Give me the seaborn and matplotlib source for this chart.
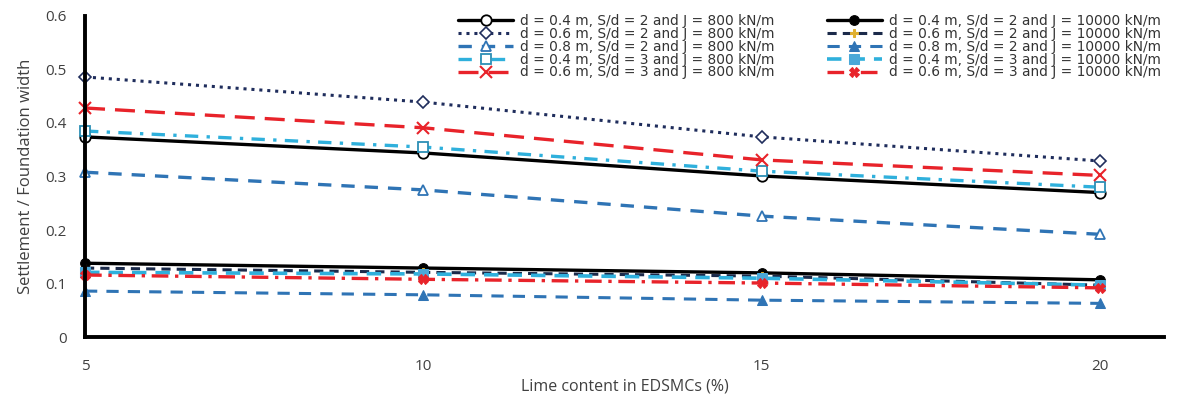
import matplotlib
matplotlib.use("Agg")
import matplotlib.pyplot as plt
import seaborn as sns
import pandas as pd

sns.set_theme(style="white")
plt.rcParams["font.family"] = ["Open Sans", "DejaVu Sans"]

lime = [5, 10, 15, 20]

labels = [
    "d = 0.4 m, S/d = 2 and J = 800 kN/m",
    "d = 0.6 m, S/d = 2 and J = 800 kN/m",
    "d = 0.8 m, S/d = 2 and J = 800 kN/m",
    "d = 0.4 m, S/d = 3 and J = 800 kN/m",
    "d = 0.6 m, S/d = 3 and J = 800 kN/m",
    "d = 0.4 m, S/d = 2 and J = 10000 kN/m",
    "d = 0.6 m, S/d = 2 and J = 10000 kN/m",
    "d = 0.8 m, S/d = 2 and J = 10000 kN/m",
    "d = 0.4 m, S/d = 3 and J = 10000 kN/m",
    "d = 0.6 m, S/d = 3 and J = 10000 kN/m",
]

# Settlement ratios for each configuration
s_04_2_800 = [0.374, 0.344, 0.301, 0.270]
s_06_2_800 = [0.486, 0.439, 0.374, 0.329]
s_08_2_800 = [0.308, 0.275, 0.226, 0.192]
s_04_3_800 = [0.385, 0.355, 0.310, 0.280]
s_06_3_800 = [0.428, 0.391, 0.331, 0.302]
s_04_2_10000 = [0.138, 0.129, 0.120, 0.107]
s_06_2_10000 = [0.129, 0.121, 0.114, 0.097]
s_08_2_10000 = [0.086, 0.079, 0.069, 0.063]
s_04_3_10000 = [0.121, 0.118, 0.110, 0.097]
s_06_3_10000 = [0.116, 0.108, 0.101, 0.092]

series = [s_04_2_800, s_06_2_800, s_08_2_800, s_04_3_800, s_06_3_800,
          s_04_2_10000, s_06_2_10000, s_08_2_10000, s_04_3_10000, s_06_3_10000]

styles = [
    dict(color="black", linestyle="-", lw=2.4, marker="o", ms=7.5, mfc="white", mec="black", mew=1.3),
    dict(color="#1f2d5c", linestyle=(0, (1, 1.6)), lw=2.2, marker="D", ms=6, mfc="white", mec="#1f2d5c", mew=1.2),
    dict(color="#2f74b5", linestyle=(0, (4, 3)), lw=2.4, marker="^", ms=7.5, mfc="white", mec="#2f74b5", mew=1.3),
    dict(color="#2fb0dc", linestyle=(0, (4, 2.5, 1, 2.5)), lw=2.4, marker="s", ms=6.5, mfc="white", mec="#2c8fb5", mew=1.3),
    dict(color="#e8232a", linestyle=(0, (6, 3)), lw=2.4, marker="x", ms=8, mec="#e8232a", mew=1.5),
    dict(color="black", linestyle="-", lw=2.4, marker="o", ms=7, mfc="black", mec="black"),
    dict(color="#1b2a4a", linestyle=(0, (3, 2)), lw=2.2, marker="P", ms=6, mfc="#e0b030", mec="#e0b030"),
    dict(color="#2f74b5", linestyle=(0, (4, 3)), lw=2.2, marker="^", ms=7, mfc="#2f74b5", mec="#2f74b5"),
    dict(color="#2fb0dc", linestyle=(0, (4, 2.5)), lw=2.6, marker="s", ms=6.5, mfc="#4aa8d8", mec="#4aa8d8"),
    dict(color="#e8232a", linestyle=(0, (5, 2, 1, 2)), lw=2.4, marker="X", ms=6.5, mfc="#e8232a", mec="#e8232a"),
]

fig = plt.figure(figsize=(11.81, 3.98), dpi=100)
ax = fig.add_axes([0.072, 0.153, 0.914, 0.807])

for lab, vals, st in zip(labels, series, styles):
    df = pd.DataFrame({"lime": lime, "ratio": vals})
    sns.lineplot(data=df, x="lime", y="ratio", ax=ax, label=lab, clip_on=False, **st)

ax.set_xlim(5, 20.95)
ax.set_ylim(0, 0.6)
ax.set_xticks(lime)
ax.set_yticks([0, 0.1, 0.2, 0.3, 0.4, 0.5, 0.6])
ax.set_yticklabels(["0", "0.1", "0.2", "0.3", "0.4", "0.5", "0.6"])

for side in ["top", "right"]:
    ax.spines[side].set_visible(False)
for side in ["left", "bottom"]:
    ax.spines[side].set_color("black")
    ax.spines[side].set_linewidth(2.8)

ax.tick_params(axis="both", which="major", direction="out", length=5, width=2.5,
               colors="black", labelcolor="#404040", labelsize=11, pad=8)
ax.tick_params(axis="x", direction="inout", length=8, pad=12)

ax.set_xlabel("Lime content in EDSMCs (%)", fontsize=11.5, color="#404040", labelpad=3)
ax.set_ylabel("Settlement / Foundation width", fontsize=12, color="#404040", labelpad=8)

leg = ax.legend(ncol=2, loc="upper right", bbox_to_anchor=(1.008, 1.045), frameon=False,
                prop={"family": "DejaVu Sans", "size": 9.9}, handlelength=4.0,
                columnspacing=3.8, labelspacing=-0.08, handletextpad=0.5,
                labelcolor="#333333")

fig.savefig("out.png", dpi=100)
